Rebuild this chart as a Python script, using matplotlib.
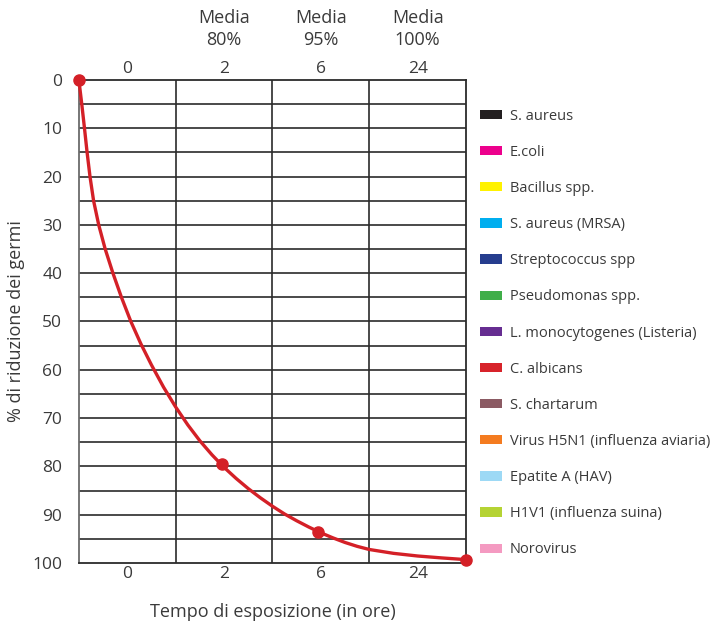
import matplotlib
matplotlib.use("Agg")
import matplotlib.pyplot as plt
from matplotlib.patches import Patch

plt.rcParams['font.family'] = ['Open Sans', 'DejaVu Sans']

# categorie dell'asse x (ore) e medie riportate in alto
ore = ['0', '2', '6', '24']
medie = ['', 'Media\n80%', 'Media\n95%', 'Media\n100%']

# punti evidenziati (posizione in colonne, % riduzione)
punti_x = [0.0, 1.475, 2.473, 4.0]
punti_y = [0.0, 79.4, 93.5, 99.3]

# curva
curva_x = [0.0, 0.03, 0.058, 0.085, 0.115, 0.152, 0.205, 0.272, 0.352, 0.44,
           0.537, 0.64, 0.75, 0.875, 1.0, 1.125, 1.25, 1.375, 1.5, 1.625,
           1.75, 1.875, 2.0, 2.125, 2.25, 2.375, 2.5, 2.625, 2.75, 2.875,
           3.0, 3.25, 3.5, 3.75, 4.0]
curva_y = [0.0, 5, 10, 15, 20, 25, 30, 35, 40, 45,
           50, 54.6, 59.0, 63.6, 67.7, 71.4, 74.7, 77.6, 80.2, 82.5,
           84.6, 86.5, 88.25, 89.85, 91.25, 92.55, 93.75, 94.8, 95.75, 96.55,
           97.2, 98.0, 98.55, 98.95, 99.3]

germi = ['S. aureus', 'E.coli', 'Bacillus spp.', 'S. aureus (MRSA)', 'Streptococcus spp',
         'Pseudomonas spp.', 'L. monocytogenes (Listeria)', 'C. albicans', 'S. chartarum',
         'Virus H5N1 (influenza aviaria)', 'Epatite A (HAV)', 'H1V1 (influenza suina)', 'Norovirus']
colori = ['#231f20', '#ec008c', '#fff200', '#00aeef', '#263d8e', '#3fae49', '#662d91',
          '#d7232a', '#8b5a63', '#f47b20', '#9dd9f5', '#b5d334', '#f49ac1']

rosso = '#d42027'
testo = '#3a3a3a'

fig = plt.figure(figsize=(7.17, 6.23), dpi=100)
ax = fig.add_axes([0.110, 0.0963, 0.540, 0.7753])

ax.set_xlim(0, 4)
ax.set_ylim(100, 0)

# griglia
for y in range(5, 100, 5):
    ax.axhline(y, color='#2b2b2b', lw=1.2, zorder=1)
for x in [1, 2, 3]:
    ax.axvline(x, color='#2b2b2b', lw=1.2, zorder=1)
for s in ax.spines.values():
    s.set_color('#2b2b2b')
    s.set_linewidth(1.3)
ax.spines['left'].set_color('#6b6b6b')

ax.plot(curva_x, curva_y, color=rosso, lw=2.4, zorder=3, clip_on=False,
        solid_joinstyle='round')
ax.plot(punti_x, punti_y, 'o', color=rosso, ms=8, zorder=4, clip_on=False)

ax.set_yticks(range(0, 101, 10))
ax.set_xticks([0.5, 1.5, 2.5, 3.5])
ax.set_xticklabels(ore)
ax.tick_params(axis='both', length=0, labelsize=12.5, labelcolor=testo)
ax.tick_params(axis='y', pad=12)
ax.tick_params(axis='x', pad=2.5, labeltop=True)

for i, m in enumerate(medie):
    if m:
        ax.text(i + 0.5, 1.064, m, transform=ax.get_xaxis_transform(), ha='center',
                va='bottom', fontsize=13, color=testo, linespacing=1.3)

ax.set_ylabel('% di riduzione dei germi', fontsize=13, color=testo, labelpad=5)
ax.set_xlabel('Tempo di esposizione (in ore)', fontsize=13, color=testo, labelpad=15)

handles = [Patch(facecolor=c, edgecolor='none') for c in colori]
fig.legend(handles, germi, loc='upper left', bbox_to_anchor=(0.662, 0.835),
           frameon=False, fontsize=10.5, handlelength=1.5, handleheight=0.6,
           handletextpad=0.5, labelspacing=1.45, borderaxespad=0, labelcolor=testo)

fig.savefig('out.png', dpi=100)
